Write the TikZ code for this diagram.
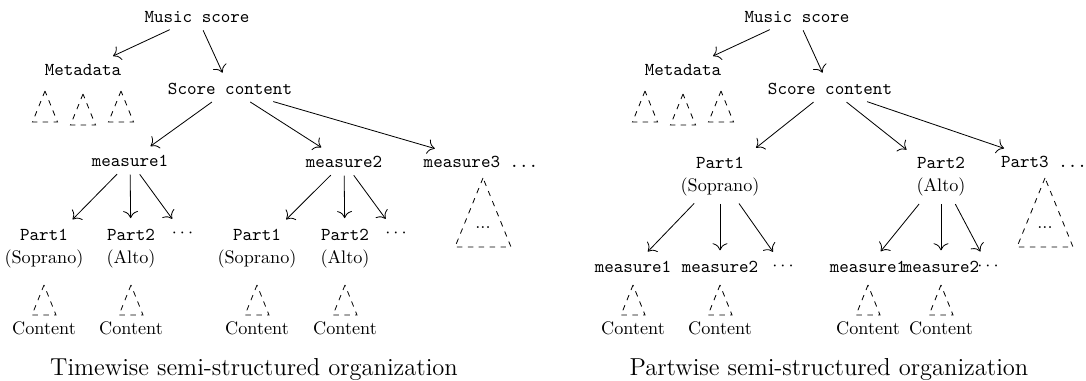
\documentclass[tikz,border=0pt]{standalone}
\usetikzlibrary{arrows.meta}
\begin{document}
\begin{tikzpicture}[x=0.55pt,y=0.55pt,
    tnode/.style={font=\ttfamily,inner sep=3.333pt},
    pnode/.style={align=center,font=\fontsize{10}{12.65}\selectfont},
    link/.style={-{To[scale=1.5]},line width=0.45pt,shorten >=2.5pt,shorten <=0.8pt},
    roof/.style={dashed,line width=0.45pt}]
                % \clip (0,0) rectangle (1086,380);
                \useasboundingbox (0,0) rectangle (1086,380);%

                % ---------- Timewise tree ----------

                % Drawing top level
                \node (ms1) at (197,363) [tnode] {Music score};%
                \node (md1) at (83,310) [tnode] {Metadata};%
                \node (sc1) at (230,291) [tnode] {Score content};%
                \draw [link] (ms1) -- (md1);%
                \draw [link] (ms1) -- (sc1);%

                % Metadata roofs
                \draw [roof] (45,289) -- (32.5,258) -- (57.5,258) -- cycle;%
                \draw [roof] (83,286) -- (70.5,255) -- (95.5,255) -- cycle;%
                \draw [roof] (121,289) -- (108.5,258) -- (133.5,258) -- cycle;%

                % Drawing measures
                \node (m1a) at (130,219) [tnode] {measure1};%
                \node (m1b) at (344,218) [tnode] {measure2};%
                \node (m1c) at (481,218) [tnode] {measure3 ...};%
                \draw [link] (sc1) -- (m1a);%
                \draw [link] (sc1) -- (m1b);%
                \draw [link] (sc1) -- (m1c);%

                % Roof under measure3
                \draw [roof] (483,202) -- (455,133) -- (511,133) -- cycle;%
                \node (r1) at (483,152) {...};%

                % Drawing parts of measure1
                \node (p1a) at (44,131.5) [pnode] {\texttt{Part1}\\(Soprano)};%
                \node (p1b) at (131,131.5) [pnode] {\texttt{Part2}\\(Alto)};%
                \node (d1a) at (182.5,147) {$\cdots$};%
                \draw [link] (m1a) -- (p1a);%
                \draw [link] (m1a) -- (p1b);%
                \draw [link] (m1a) -- (d1a);%

                % Drawing parts of measure2
                \node (p1c) at (257,131.5) [pnode] {\texttt{Part1}\\(Soprano)};%
                \node (p1d) at (345,131.5) [pnode] {\texttt{Part2}\\(Alto)};%
                \node (d1b) at (396,147) {$\cdots$};%
                \draw [link] (m1b) -- (p1c);%
                \draw [link] (m1b) -- (p1d);%
                \draw [link] (m1b) -- (d1b);%

                % Content roofs
                \draw [roof] (44,95) -- (32,65) -- (56,65) -- cycle;%
                \draw [roof] (131,95) -- (119,65) -- (143,65) -- cycle;%
                \draw [roof] (257,95) -- (245,65) -- (269,65) -- cycle;%
                \draw [roof] (345,95) -- (333,65) -- (357,65) -- cycle;%
                \node (c1a) at (44,52) {Content};%
                \node (c1b) at (131,52) {Content};%
                \node (c1c) at (257,52) {Content};%
                \node (c1d) at (345,52) {Content};%

                % Caption
                \node (cap1) at (254,5) [anchor=base,font=\fontsize{13.5}{16}\selectfont] {Timewise semi-structured organization};%

                % ---------- Partwise tree ----------

                % Drawing top level
                \node (ms2) at (797,363) [tnode] {Music score};%
                \node (md2) at (683,310) [tnode] {Metadata};%
                \node (sc2) at (830,291) [tnode] {Score content};%
                \draw [link] (ms2) -- (md2);%
                \draw [link] (ms2) -- (sc2);%

                % Metadata roofs
                \draw [roof] (645,289) -- (632.5,258) -- (657.5,258) -- cycle;%
                \draw [roof] (683,286) -- (670.5,255) -- (695.5,255) -- cycle;%
                \draw [roof] (721,289) -- (708.5,258) -- (733.5,258) -- cycle;%

                % Drawing parts
                \node (p2a) at (720,203.5) [pnode] {\texttt{Part1}\\(Soprano)};%
                \node (p2b) at (941,203) [pnode] {\texttt{Part2}\\(Alto)};%
                \node (p2c) at (1044,218) [tnode] {Part3 ...};%
                \draw [link] (sc2) -- (p2a);%
                \draw [link] (sc2) -- (p2b);%
                \draw [link] (sc2) -- (p2c);%

                % Roof under Part3
                \draw [roof] (1045,202) -- (1017,133) -- (1073,133) -- cycle;%
                \node (r2) at (1045,152) {...};%

                % Drawing measures of Part1
                \node (m2a) at (633,113) [tnode] {measure1};%
                \node (m2b) at (720,113) [tnode] {measure2};%
                \node (d2a) at (783,114) {$\cdots$};%
                \draw [link] (p2a) -- (m2a);%
                \draw [link] (p2a) -- (m2b);%
                \draw [link] (p2a) -- (d2a);%

                % Drawing measures of Part2
                \node (m2c) at (868,113) [tnode] {measure1};%
                \node (m2d) at (941,113) [tnode] {measure2};%
                \node (d2b) at (988,114) {$\cdots$};%
                \draw [link] (p2b) -- (m2c);%
                \draw [link] (p2b) -- (m2d);%
                \draw [link] (p2b) -- (d2b);%

                % Content roofs
                \draw [roof] (633,95) -- (621,65) -- (645,65) -- cycle;%
                \draw [roof] (720,95) -- (708,65) -- (732,65) -- cycle;%
                \draw [roof] (868,95) -- (856,65) -- (880,65) -- cycle;%
                \draw [roof] (941,95) -- (929,65) -- (953,65) -- cycle;%
                \node (c2a) at (633,52) {Content};%
                \node (c2b) at (720,52) {Content};%
                \node (c2c) at (868,52) {Content};%
                \node (c2d) at (941,52) {Content};%

                % Caption
                \node (cap2) at (829,5) [anchor=base,font=\fontsize{13.5}{16}\selectfont] {Partwise semi-structured organization};%
\end{tikzpicture}
\end{document}
